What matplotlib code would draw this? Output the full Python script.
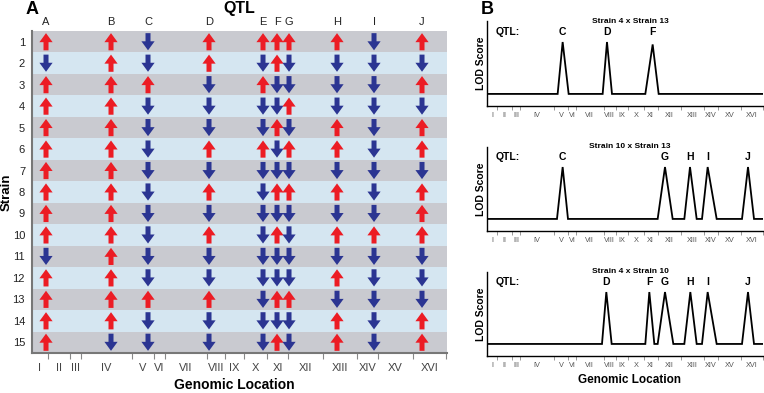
import numpy as np
import matplotlib
matplotlib.use('Agg')
import matplotlib.pyplot as plt

plt.rcParams['font.family'] = ['Liberation Sans', 'DejaVu Sans']

# chromosome layout along the genomic axis (arbitrary units)
chromosomes = ['I', 'II', 'III', 'IV', 'V', 'VI', 'VII', 'VIII',
               'IX', 'X', 'XI', 'XII', 'XIII', 'XIV', 'XV', 'XVI']
chrom_sizes = [15.5, 22.5, 11, 51, 22, 11, 42, 18, 19, 23, 21, 35, 34, 21, 35, 33]

# QTL names and genomic positions
qtl_names = ['A', 'B', 'C', 'D', 'E', 'F', 'G', 'H', 'I', 'J']
qtl_pos = [14, 79, 116, 177, 231, 245, 257, 305, 342, 390]

# allele effect per strain (1 = up / red, 0 = down / blue)
strains = list(range(1, 16))
alleles = [
    [1, 1, 0, 1, 1, 1, 1, 1, 0, 1],
    [0, 1, 0, 1, 0, 1, 0, 0, 0, 0],
    [1, 1, 1, 0, 1, 0, 0, 0, 0, 1],
    [1, 1, 0, 0, 0, 0, 1, 0, 0, 0],
    [1, 1, 0, 0, 0, 1, 0, 1, 0, 1],
    [1, 1, 0, 1, 1, 0, 1, 1, 0, 1],
    [1, 1, 0, 0, 0, 0, 0, 0, 0, 0],
    [1, 1, 0, 1, 0, 1, 1, 1, 0, 1],
    [1, 1, 0, 0, 0, 0, 0, 0, 0, 1],
    [1, 1, 0, 1, 0, 1, 0, 1, 1, 1],
    [0, 1, 0, 0, 0, 0, 0, 0, 0, 0],
    [1, 1, 0, 0, 0, 0, 0, 1, 0, 0],
    [1, 1, 1, 1, 0, 1, 1, 0, 0, 0],
    [1, 1, 0, 0, 0, 0, 0, 1, 0, 1],
    [1, 0, 0, 0, 0, 1, 0, 1, 0, 1],
]

# LOD profiles for the three crosses (peak start, apex, end, height)
lod_baseline = 1.0
cross_titles = ['Strain 4 x Strain 13', 'Strain 10 x Strain 13', 'Strain 4 x Strain 10']

c1_qtl = ['C', 'D', 'F']
c1_start = [106, 173.5, 237.5]
c1_apex = [113.5, 180, 248.5]
c1_end = [122.5, 187.5, 257.5]
c1_lod = [5.3, 5.3, 5.1]

c2_qtl = ['C', 'G', 'H', 'I', 'J']
c2_start = [105, 256, 296, 322.5, 382.5]
c2_apex = [113.5, 267, 304.5, 331, 391.5]
c2_end = [121.5, 278.5, 314.5, 344.5, 400.5]
c2_lod = [5.3, 5.3, 5.3, 5.3, 5.3]

c3_qtl = ['D', 'F', 'G', 'H', 'I', 'J']
c3_start = [172.5, 237.5, 256, 296, 322.5, 382.5]
c3_apex = [179, 243.5, 267, 305, 331, 391.5]
c3_end = [187, 251, 279.5, 314.5, 344.5, 400.5]
c3_lod = [5.3, 5.3, 5.3, 5.3, 5.3, 5.3]

edges = np.concatenate([[0], np.cumsum(chrom_sizes)])
centers = (edges[:-1] + edges[1:]) / 2
genome_len = edges[-1]

RED = '#ec1c24'
BLUE = '#2b3592'
GREY_ROW = '#c9cad0'
BLUE_ROW = '#d5e6f1'

fig = plt.figure(figsize=(7.64, 3.93), dpi=100)

# ---------------- panel A ----------------
ax = fig.add_axes([0.0419, 0.1018, 0.5432, 0.8193])
ax.set_xlim(0, genome_len + 1)
ax.set_ylim(len(strains) + 0.5, 0.5)
for i, s in enumerate(strains):
    ax.axhspan(s - 0.5, s + 0.5, color=GREY_ROW if i % 2 == 0 else BLUE_ROW, lw=0, zorder=0)

for s, row in zip(strains, alleles):
    for x, a in zip(qtl_pos, row):
        if a == 1:
            tip, tail, col = s - 0.4, s + 0.4, RED
        else:
            tip, tail, col = s + 0.4, s - 0.4, BLUE
        ax.annotate('', xy=(x, tip), xytext=(x, tail),
                    arrowprops=dict(arrowstyle='simple,head_length=0.65,head_width=0.95,tail_width=0.36',
                                    fc=col, ec='none', mutation_scale=10,
                                    shrinkA=0, shrinkB=0))

for name, x in zip(qtl_names, qtl_pos):
    ax.text(x, 1.012, name, transform=ax.get_xaxis_transform(), ha='center', va='bottom',
            fontsize=8, color='#222222')

ax.set_yticks(strains)
ax.set_yticklabels([str(s) for s in strains], fontsize=8, color='#222222')
ax.tick_params(axis='y', length=0, pad=5)
ax.set_xticks(edges[1:])
ax.set_xticklabels([])
ax.set_xticks(centers, minor=True)
ax.set_xticklabels(chromosomes, minor=True, fontsize=8, color='#444444')
ax.tick_params(axis='x', which='major', length=4, width=0.8, color='#888888')
ax.tick_params(axis='x', which='minor', length=0, pad=7)
for side in ['top', 'right']:
    ax.spines[side].set_visible(False)
for side in ['left', 'bottom']:
    ax.spines[side].set_color('#777777')
    ax.spines[side].set_linewidth(1.5)

fig.text(239 / 764, 1 - 9 / 393, 'QTL', ha='center', va='center', fontsize=11.5, fontweight='bold')
fig.text(32 / 764, 1 - 9 / 393, 'A', ha='center', va='center', fontsize=13, fontweight='bold')
fig.text(7 / 764, 1 - 192 / 393, 'Strain', ha='center', va='center', rotation=90,
         fontsize=9.5, fontweight='bold')
fig.text(234 / 764, 1 - 385 / 393, 'Genomic Location', ha='center', va='center',
         fontsize=10, fontweight='bold')

# ---------------- panel B ----------------
crosses = [
    (c1_qtl, c1_start, c1_apex, c1_end, c1_lod),
    (c2_qtl, c2_start, c2_apex, c2_end, c2_lod),
    (c3_qtl, c3_start, c3_apex, c3_end, c3_lod),
]
bottoms = [0.7303, 0.4122, 0.0941]
for title, (names, starts, apexes, ends, lods), b in zip(cross_titles, crosses, bottoms):
    bx = fig.add_axes([0.6374, b, 0.3613, 0.215])
    xs = [0]
    ys = [lod_baseline]
    for s0, ap, e0, h in zip(starts, apexes, ends, lods):
        xs += [s0, ap, e0]
        ys += [lod_baseline, h, lod_baseline]
    xs.append(genome_len)
    ys.append(lod_baseline)
    bx.plot(xs, ys, color='black', lw=1.3, solid_joinstyle='miter')
    bx.set_xlim(0, genome_len)
    bx.set_ylim(0, 7)
    bx.set_yticks([])
    bx.set_xticks(edges[1:])
    bx.set_xticklabels([])
    bx.set_xticks(centers, minor=True)
    bx.set_xticklabels(chromosomes, minor=True, fontsize=5.3, color='#555555')
    bx.tick_params(axis='x', which='major', length=3, width=0.6, color='#888888')
    bx.tick_params(axis='x', which='minor', length=0, pad=4)
    for side in ['top', 'right']:
        bx.spines[side].set_visible(False)
    for side in ['left', 'bottom']:
        bx.spines[side].set_linewidth(1.0)
    bx.set_ylabel('LOD Score', fontsize=7.5, fontweight='bold', labelpad=1)
    bx.text(0.518, 1.0, title, transform=bx.transAxes, ha='center', va='center',
            fontsize=6, fontweight='bold')
    bx.text(31, 6.1, 'QTL:', ha='center', va='center', fontsize=7.5, fontweight='bold')
    for n, ap in zip(names, apexes):
        bx.text(ap, 6.1, n, ha='center', va='center', fontsize=7.5, fontweight='bold')

fig.text(487 / 764, 1 - 9 / 393, 'B', ha='center', va='center', fontsize=13, fontweight='bold')
fig.text(630 / 764, 1 - 380 / 393, 'Genomic Location', ha='center', va='center',
         fontsize=8.5, fontweight='bold')

fig.savefig('out.png', dpi=100)
